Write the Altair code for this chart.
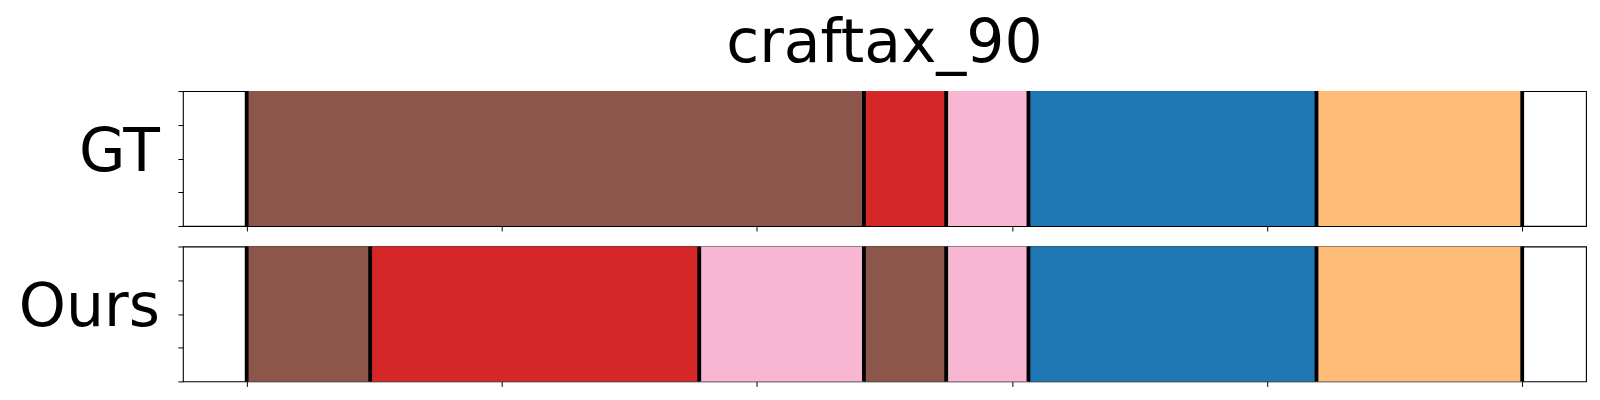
import altair as alt
import pandas as pd

# Segment data (x in percent of episode)
gt_starts = [0.0, 48.39, 54.84, 61.29, 83.87]
gt_ends = [48.39, 54.84, 61.29, 83.87, 100.0]
gt_labels = ["brown", "red", "pink", "blue", "orange"]

ours_starts = [0.0, 9.68, 35.48, 48.39, 54.84, 61.29, 83.87]
ours_ends = [9.68, 35.48, 48.39, 54.84, 61.29, 83.87, 100.0]
ours_labels = ["brown", "red", "pink", "brown", "pink", "blue", "orange"]

gt_bounds = [0.0, 48.39, 54.84, 61.29, 83.87, 100.0]
ours_bounds = [0.0, 9.68, 35.48, 48.39, 54.84, 61.29, 83.87, 100.0]

label_domain = ["brown", "red", "pink", "blue", "orange"]
label_colors = ["#8c564b", "#d62728", "#f7b6d2", "#1f77b4", "#ffbb78"]

x_ticks = [0, 20, 40, 60, 80, 100]
y_ticks = [0, 0.25, 0.5, 0.75, 1.0]

FONT = "DejaVu Sans"

x_scale = alt.Scale(domain=[-5, 105], nice=False, zero=False)
y_scale = alt.Scale(domain=[0, 1], nice=False)


def panel(starts, ends, labels, bounds, name, title=None):
    seg = pd.DataFrame({"start": starts, "end": ends, "label": labels})
    bnd = pd.DataFrame({"b": bounds})
    x_axis = alt.Axis(values=x_ticks, labels=False, title=None, grid=False,
                      ticks=True, tickSize=5, tickColor="black", tickWidth=1,
                      domain=False)
    y_axis = alt.Axis(values=y_ticks, labels=False, grid=False, ticks=True,
                      tickSize=5, tickColor="black", tickWidth=1, domain=False,
                      title=name, titleAngle=0, titleAlign="right",
                      titleBaseline="middle", titleFontSize=60,
                      titleFontWeight="normal", titleFont=FONT,
                      titleColor="black", titlePadding=18, titleY=61)
    rects = alt.Chart(seg).mark_rect(strokeWidth=0).encode(
        x=alt.X("start:Q", scale=x_scale, axis=x_axis),
        x2="end:Q",
        y=alt.Y(datum=0, scale=y_scale, axis=y_axis),
        y2=alt.Y2(datum=1),
        color=alt.Color("label:N", scale=alt.Scale(domain=label_domain, range=label_colors), legend=None),
    )
    rules = alt.Chart(bnd).mark_rule(color="black", strokeWidth=3.8).encode(
        x=alt.X("b:Q", scale=x_scale, axis=x_axis),
        y=alt.Y(datum=0, scale=y_scale, axis=y_axis),
        y2=alt.Y2(datum=1),
    )
    ch = alt.layer(rects, rules).properties(width=1404, height=135)
    if title:
        ch = ch.properties(title=alt.TitleParams(title, fontSize=60, font=FONT,
                                                 fontWeight="normal", color="black",
                                                 anchor="middle", frame="group", offset=14.6))
    return ch


top = panel(gt_starts, gt_ends, gt_labels, gt_bounds, "GT", title="craftax_90")
bottom = panel(ours_starts, ours_ends, ours_labels, ours_bounds, "Ours")

chart = alt.vconcat(top, bottom, spacing=10.5).properties(
    padding={"left": 9, "top": 4, "right": 5, "bottom": 5}
).configure(
    background="white"
).configure_view(
    stroke="black", strokeWidth=1.1
)

chart.save("out.html", embed_options={"renderer": "svg", "actions": False})
